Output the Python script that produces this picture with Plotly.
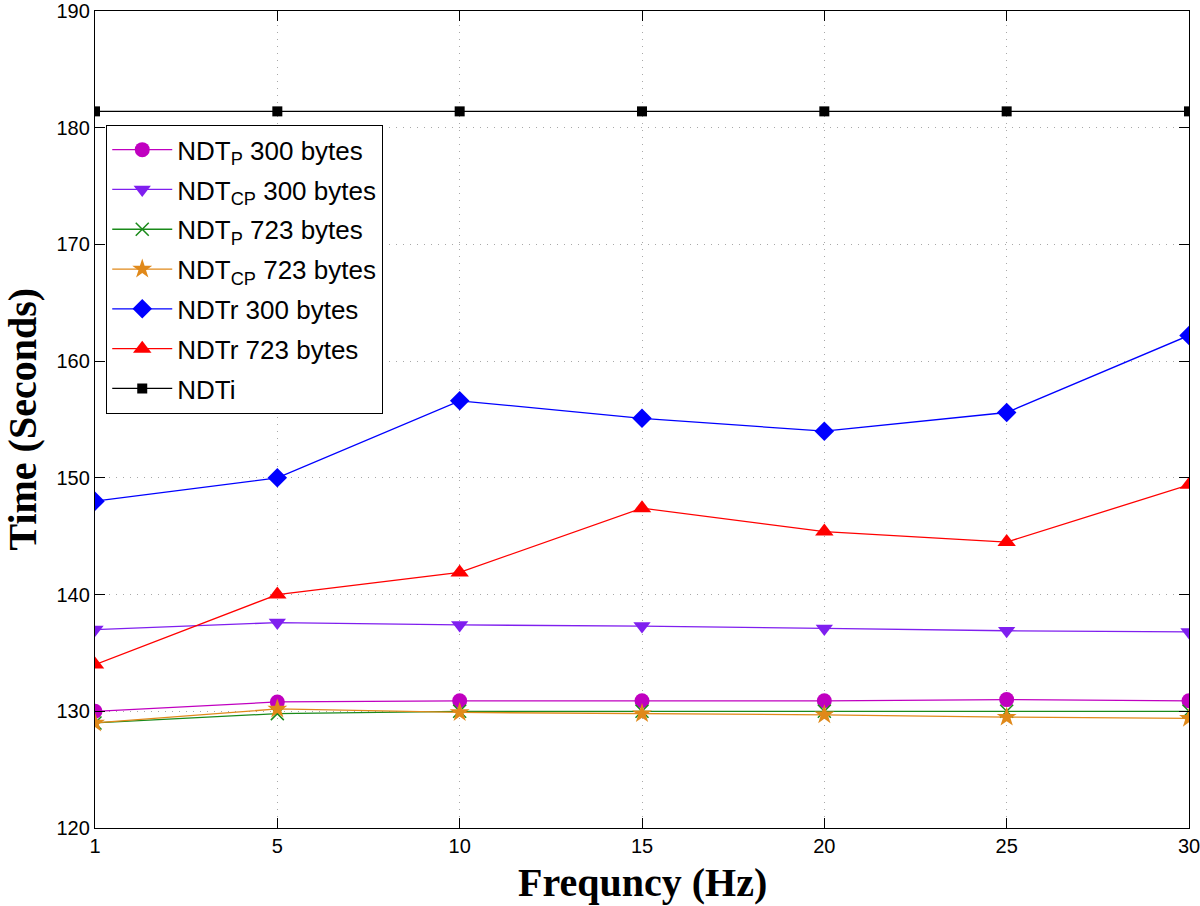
import plotly.graph_objects as go

freq_labels = ["1", "5", "10", "15", "20", "25", "30"]
x_pos = list(range(len(freq_labels)))

ndtp_300 = [130.0, 130.8, 130.9, 130.9, 130.9, 131.0, 130.9]
ndtcp_300 = [137.0, 137.6, 137.4, 137.3, 137.1, 136.9, 136.8]
ndtp_723 = [129.0, 129.8, 130.0, 130.0, 130.0, 130.0, 130.0]
ndtcp_723 = [129.0, 130.2, 129.9, 129.8, 129.7, 129.5, 129.4]
ndtr_300 = [148.0, 150.0, 156.6, 155.1, 154.0, 155.6, 162.2]
ndtr_723 = [134.0, 140.0, 141.9, 147.4, 145.4, 144.5, 149.4]
ndti = [181.4, 181.4, 181.4, 181.4, 181.4, 181.4, 181.4]

y_ticks = [120, 130, 140, 150, 160, 170, 180, 190]

series = [
    ("NDT<sub>P</sub> 300 bytes", ndtp_300, "#c000c0", "circle", 15, None),
    ("NDT<sub>CP</sub> 300 bytes", ndtcp_300, "#7f1fef", "triangle-down", 15, None),
    ("NDT<sub>P</sub> 723 bytes", ndtp_723, "#1a8a1a", "x-thin", 13, 1.5),
    ("NDT<sub>CP</sub> 723 bytes", ndtcp_723, "#e0891a", "star", 15, None),
    ("NDTr 300 bytes", ndtr_300, "#0000ff", "diamond", 15, None),
    ("NDTr 723 bytes", ndtr_723, "#ff0000", "triangle-up", 16, None),
    ("NDTi", ndti, "#000000", "square", 10, None),
]

fig = go.Figure()
for i, (name, vals, color, sym, size, lw) in enumerate(series):
    marker = dict(symbol=sym, size=size, color=color)
    if lw is not None:
        marker["line"] = dict(color=color, width=lw)
    else:
        marker["line"] = dict(width=0)
    fig.add_trace(go.Scatter(
        x=x_pos, y=vals, name=name, mode="lines+markers", legendgroup=f"g{i}",
        line=dict(color=color, width=1.3), marker=marker,
    ))

axis_common = dict(
    showline=True, linecolor="black", linewidth=1.3, mirror="ticks",
    ticks="inside", ticklen=10, tickcolor="black", tickwidth=1,
    showgrid=True, gridcolor="#a8a8a8", griddash="1px,6px", gridwidth=1,
    zeroline=False, automargin=False, ticklabeloverflow="allow",
    tickfont=dict(family="Liberation Sans, Arial, sans-serif", size=20, color="black"),
)

fig.update_layout(
    width=1200, height=906,
    margin=dict(l=95, r=11, t=11, b=78),
    plot_bgcolor="white", paper_bgcolor="white",
    xaxis=dict(range=[0, 6], tickmode="array", tickvals=x_pos, ticktext=freq_labels,
               **axis_common),
    yaxis=dict(range=[120, 190], tickmode="array", tickvals=y_ticks, **axis_common),
    legend=dict(
        x=0.01, y=0.8605, xanchor="left", yanchor="top",
        bgcolor="white", bordercolor="black", borderwidth=1.3,
        font=dict(family="Liberation Sans, Arial, sans-serif", size=26, color="black"),
        itemwidth=60, tracegroupgap=3,
    ),
    showlegend=True,
    annotations=[
        dict(text="<b>Frequncy (Hz)</b>", xref="paper", yref="paper",
             x=0.5, y=-0.0673, xanchor="center", yanchor="middle", showarrow=False,
             font=dict(family="Liberation Serif, Times New Roman, serif", size=40, color="black")),
        dict(text="<b>Time (Seconds)</b>", xref="paper", yref="paper",
             x=-0.0667, y=0.5, xanchor="center", yanchor="middle", showarrow=False,
             textangle=-90,
             font=dict(family="Liberation Serif, Times New Roman, serif", size=40, color="black")),
    ],
)

fig.write_html("out.html", config={"displayModeBar": False},
               post_script="document.body.style.margin='0';document.body.style.overflow='hidden';")
